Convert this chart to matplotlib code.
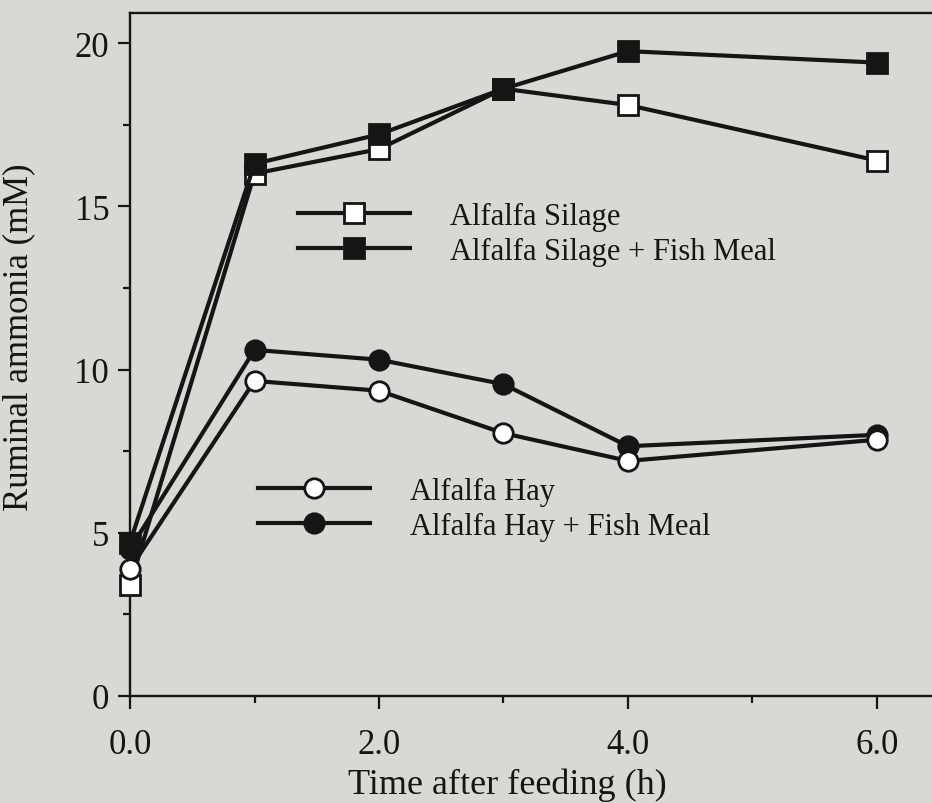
import matplotlib.pyplot as plt
from matplotlib.ticker import MultipleLocator, FixedLocator

# data
hours = [0, 1, 2, 3, 4, 6]
silage = [3.4, 16.0, 16.75, 18.6, 18.1, 16.4]
silage_fish = [4.7, 16.3, 17.2, 18.6, 19.75, 19.4]
hay = [3.9, 9.65, 9.35, 8.05, 7.2, 7.85]
hay_fish = [4.5, 10.6, 10.3, 9.55, 7.65, 8.0]

x_ticks = [0, 2, 4, 6]
x_ticklabels = ['0.0', '2.0', '4.0', '6.0']
y_ticks = [0, 5, 10, 15, 20]

BG = '#dad8d4'
INK = '#161414'

plt.rcParams['font.family'] = ['Liberation Serif', 'DejaVu Serif']

fig = plt.figure(figsize=(9.32, 8.04), dpi=100, facecolor=BG)
ax = fig.add_axes([130 / 932, 1 - 697 / 804, 1 - 130 / 932, (697 - 14) / 804])
ax.set_facecolor(BG)

style = dict(color=INK, lw=3.0, markersize=14, markeredgewidth=2.0,
             markeredgecolor=INK, clip_on=False)
l_sil, = ax.plot(hours, silage, marker='s', markerfacecolor='white',
                 label='Alfalfa Silage', zorder=3, **style)
l_silf, = ax.plot(hours, silage_fish, marker='s', markerfacecolor=INK,
                  label='Alfalfa Silage + Fish Meal', zorder=4, **style)
l_hayf, = ax.plot(hours, hay_fish, marker='o', markerfacecolor=INK,
                  label='Alfalfa Hay + Fish Meal', zorder=5, **style)
l_hay, = ax.plot(hours, hay, marker='o', markerfacecolor='white',
                 label='Alfalfa Hay', zorder=6, **style)

ax.set_xlim(0, 802 / 124.5)
ax.set_ylim(0, 683 / 32.65)

ax.xaxis.set_major_locator(FixedLocator(x_ticks))
ax.set_xticklabels(x_ticklabels)
ax.xaxis.set_minor_locator(FixedLocator([1, 3, 5]))
ax.yaxis.set_major_locator(FixedLocator(y_ticks))
ax.yaxis.set_minor_locator(MultipleLocator(2.5))

ax.tick_params(which='major', direction='out', length=9, width=1.6,
               color=INK, labelsize=25, labelcolor=INK, pad=14)
ax.tick_params(which='minor', direction='out', length=5, width=1.6, color=INK)
ax.tick_params(axis='y', pad=6)

for side in ['left', 'bottom', 'top']:
    ax.spines[side].set_linewidth(1.7)
    ax.spines[side].set_color(INK)
ax.spines['right'].set_visible(False)

ax.set_xlabel('Time after feeding (h)', fontsize=26, color=INK)
ax.xaxis.set_label_coords((507 - 130) / (932 - 130), -0.104)
ax.set_ylabel('Ruminal ammonia (mM)', fontsize=25, color=INK)
ax.yaxis.set_label_coords(-(130 - 35) / (932 - 130), (697 - 337) / 683)

leg_kw = dict(frameon=False, numpoints=1, fontsize=22, handlelength=3.66,
              handletextpad=1.3, labelspacing=0.2, borderpad=0,
              borderaxespad=0, loc='center left')
leg1 = fig.legend(handles=[l_sil, l_silf], labelcolor=INK,
                  bbox_to_anchor=(298 / 932, 1 - 235 / 804), **leg_kw)
leg2 = fig.legend(handles=[l_hay, l_hayf], labelcolor=INK,
                  bbox_to_anchor=(258 / 932, 1 - 510 / 804), **leg_kw)

fig.savefig('out.png', dpi=100, facecolor=BG)
